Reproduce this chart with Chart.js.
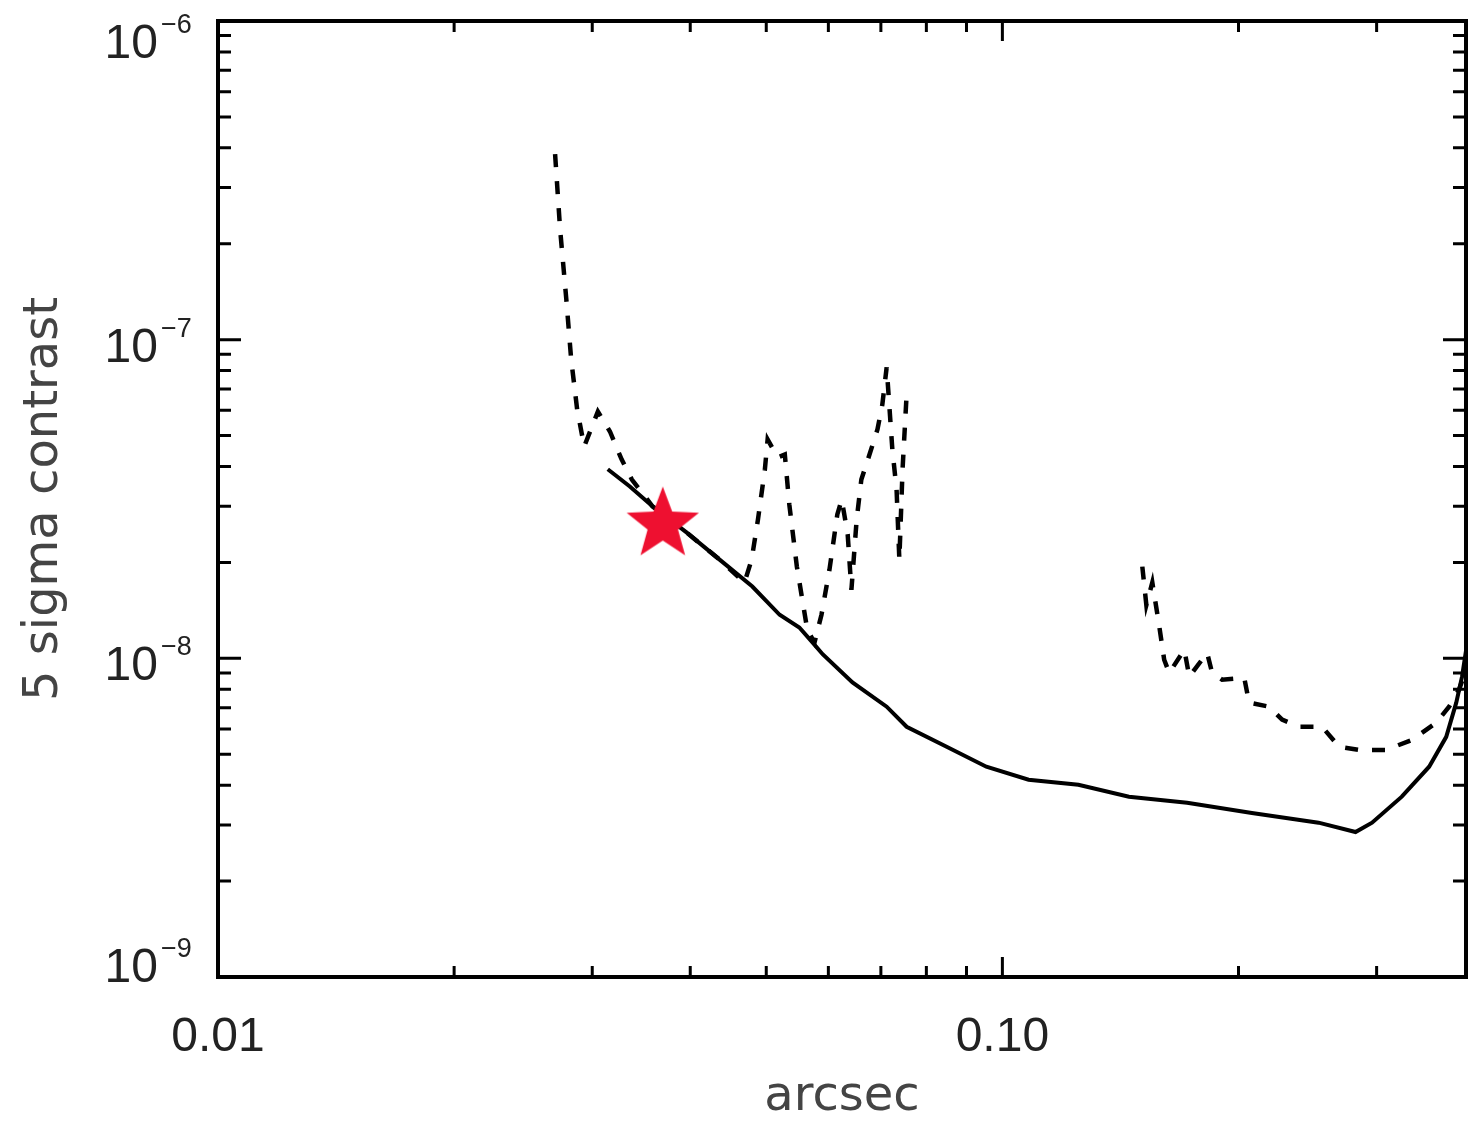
<!DOCTYPE html>
<html>
<head>
<meta charset="utf-8">
<script src="https://cdn.jsdelivr.net/npm/chart.js@4.4.1/dist/chart.umd.min.js"></script>
<style>
  html, body { margin: 0; padding: 0; background: #fff; }
  #wrap { width: 1468px; height: 1122px; }
</style>
</head>
<body>
<div id="wrap"><canvas id="chart" width="1468" height="1122"></canvas></div>
<script>
// solid contrast curve
const solidX = [0.0314, 0.0335, 0.0358, 0.0396, 0.0436, 0.0480, 0.0520, 0.0551, 0.0573, 0.0590,
  0.0644, 0.0712, 0.0755, 0.0849, 0.0954, 0.108, 0.125, 0.145, 0.172, 0.208,
  0.253, 0.282, 0.296, 0.323, 0.350, 0.368, 0.379, 0.3855, 0.391]
const solidY = [3.92e-8, 3.46e-8, 3.00e-8, 2.48e-8, 2.04e-8, 1.68e-8, 1.37e-8, 1.25e-8, 1.12e-8, 1.03e-8,
  8.4e-9, 7.05e-9, 6.1e-9, 5.28e-9, 4.57e-9, 4.16e-9, 4.01e-9, 3.68e-9, 3.52e-9, 3.27e-9,
  3.05e-9, 2.85e-9, 3.05e-9, 3.68e-9, 4.57e-9, 5.67e-9, 7.26e-9, 8.76e-9, 1.10e-8]

// dashed curve, inner part
const dashInnerX = [0.0269, 0.0273, 0.0278, 0.0282, 0.0287, 0.0293, 0.0305, 0.0316, 0.0327, 0.0337,
  0.0358, 0.0396, 0.0436, 0.0469, 0.0479, 0.0488, 0.0498, 0.0502, 0.0517, 0.0528,
  0.0535, 0.0547, 0.0564, 0.0576, 0.0588, 0.0602, 0.0616, 0.0624, 0.0635, 0.0642,
  0.0652, 0.0661, 0.0677, 0.0693, 0.0703, 0.0712, 0.0724, 0.0733, 0.0739, 0.0746, 0.0755]
const dashInnerY = [3.82e-7, 2.22e-7, 1.34e-7, 8.68e-8, 6.04e-8, 4.62e-8, 5.95e-8, 5.15e-8, 4.21e-8, 3.64e-8,
  3.00e-8, 2.48e-8, 2.04e-8, 1.73e-8, 2.04e-8, 2.73e-8, 3.92e-8, 4.86e-8, 4.27e-8, 4.36e-8,
  3.04e-8, 1.94e-8, 1.23e-8, 1.12e-8, 1.37e-8, 1.90e-8, 2.83e-8, 3.15e-8, 2.45e-8, 1.64e-8,
  2.73e-8, 3.64e-8, 4.36e-8, 5.23e-8, 6.26e-8, 8.19e-8, 4.52e-8, 3.39e-8, 2.04e-8, 3.92e-8, 6.74e-8]

// dashed curve, outer part
const dashOuterX = [0.1508, 0.1526, 0.1553, 0.1585, 0.1608, 0.1632, 0.1706, 0.1731, 0.1824, 0.1851,
  0.1906, 0.2034, 0.2063, 0.2188, 0.2273, 0.2389, 0.2556, 0.2687, 0.2850, 0.3085,
  0.3330, 0.3572, 0.3711, 0.3821, 0.390]
const dashOuterY = [1.94e-8, 1.47e-8, 1.73e-8, 1.26e-8, 9.9e-9, 9.0e-9, 1.065e-8, 8.76e-9, 1.04e-8, 9.0e-9,
  8.57e-9, 8.69e-9, 7.26e-9, 7.05e-9, 6.42e-9, 6.10e-9, 6.10e-9, 5.28e-9, 5.16e-9, 5.16e-9,
  5.55e-9, 6.28e-9, 7.05e-9, 7.97e-9, 9.21e-9]

// red star
const starX = [0.0369]
const starY = [2.63e-8]

// tick labels
const xLabelValues = [0.01, 0.1]
const xLabelTexts = ["0.01", "0.10"]
const yExponents = [-9, -8, -7, -6]

function pts(xs, ys) {
  return xs.map((x, i) => ({ x: x, y: ys[i] }))
}

function makeStar(r, color) {
  const c = document.createElement("canvas")
  c.width = c.height = r * 2 + 2
  const g = c.getContext("2d")
  g.translate(r + 1, r + 1)
  g.beginPath()
  for (let i = 0; i < 10; i++) {
    const rad = i % 2 === 0 ? r : r * 0.42
    const a = -Math.PI / 2 + i * Math.PI / 5
    g.lineTo(rad * Math.cos(a), rad * Math.sin(a))
  }
  g.closePath()
  g.fillStyle = color
  g.fill()
  return c
}

const tickFont = "Liberation Sans, Arial, sans-serif"
const titleFont = "DejaVu Sans, sans-serif"

// IDL style box: frame, inward ticks on all sides, 10^n labels
const idlBox = {
  id: "idlBox",
  afterDraw(chart) {
    const ctx = chart.ctx
    const a = chart.chartArea
    const x = chart.scales.x
    const y = chart.scales.y
    ctx.save()
    ctx.strokeStyle = "#000"
    ctx.lineWidth = 3
    ctx.beginPath()
    for (let d = -2; d <= 0; d++) {
      for (let m = 1; m <= 9; m++) {
        const v = m * Math.pow(10, d)
        if (v < x.min || v > x.max) continue
        const px = x.getPixelForValue(v)
        const len = m === 1 ? 20 : 11
        ctx.moveTo(px, a.bottom); ctx.lineTo(px, a.bottom - len)
        ctx.moveTo(px, a.top); ctx.lineTo(px, a.top + len)
      }
    }
    for (let d = -9; d <= -6; d++) {
      for (let m = 1; m <= 9; m++) {
        const v = m * Math.pow(10, d)
        if (v < y.min * 0.999 || v > y.max * 1.001) continue
        const py = y.getPixelForValue(v)
        const len = m === 1 ? 23 : 13
        ctx.moveTo(a.left, py); ctx.lineTo(a.left + len, py)
        ctx.moveTo(a.right, py); ctx.lineTo(a.right - len, py)
      }
    }
    ctx.stroke()

    ctx.lineWidth = 4
    ctx.strokeRect(a.left, a.top, a.right - a.left, a.bottom - a.top)

    ctx.fillStyle = "#222"
    ctx.textBaseline = "alphabetic"
    yExponents.forEach(e => {
      const py = y.getPixelForValue(Math.pow(10, e))
      const base = Math.min(Math.max(py + 22, a.top + 37), a.bottom + 5)
      ctx.font = "48px " + tickFont
      ctx.textAlign = "right"
      ctx.fillText("10", 158, base)
      ctx.font = "27px " + tickFont
      ctx.textAlign = "left"
      ctx.fillText("\u2212" + Math.abs(e), 161, base - 25)
    })
    ctx.restore()
  }
}

const lineStyle = {
  borderColor: "#000",
  pointRadius: 0,
  tension: 0,
  fill: false,
  showLine: true
}

new Chart(document.getElementById("chart"), {
  type: "scatter",
  data: {
    datasets: [
      {
        data: pts(starX, starY),
        pointStyle: makeStar(38, "#ee1030"),
        pointRadius: 38,
        showLine: false,
        order: 0
      },
      Object.assign({ data: pts(solidX, solidY), borderWidth: 4, order: 1 }, lineStyle),
      Object.assign({ data: pts(dashInnerX, dashInnerY), borderWidth: 4.5, borderDash: [13, 14], order: 2 }, lineStyle),
      Object.assign({ data: pts(dashOuterX, dashOuterY), borderWidth: 4.5, borderDash: [13, 14], order: 2 }, lineStyle)
    ]
  },
  options: {
    responsive: false,
    devicePixelRatio: 1,
    animation: false,
    layout: { autoPadding: false, padding: { top: 21, right: 2, left: 0, bottom: 0 } },
    plugins: {
      legend: { display: false },
      tooltip: { enabled: false }
    },
    scales: {
      x: {
        type: "logarithmic",
        min: 0.01,
        max: 0.39,
        grid: { display: false, drawTicks: false },
        border: { display: false },
        afterFit: function(scale) {
          scale.height = 145
          scale.paddingLeft = 0
          scale.paddingRight = 0
        },
        ticks: {
          autoSkip: false,
          maxRotation: 0,
          padding: 32,
          color: "#222",
          font: { family: tickFont, size: 48 },
          callback: function(v) {
            const i = xLabelValues.findIndex(t => Math.abs(t - v) < t * 1e-6)
            return i >= 0 ? xLabelTexts[i] : ""
          }
        },
        title: {
          display: true,
          text: "arcsec",
          color: "#444",
          font: { family: titleFont, size: 48, lineHeight: 1 },
          padding: { top: 0, bottom: 0 }
        }
      },
      y: {
        type: "logarithmic",
        min: 1e-9,
        max: 1e-6,
        grid: { display: false, drawTicks: false },
        border: { display: false },
        afterFit: function(scale) { scale.width = 218 },
        ticks: { display: false },
        title: {
          display: true,
          text: "5 sigma contrast",
          color: "#444",
          font: { family: titleFont, size: 48, lineHeight: 1 },
          padding: { top: 21, bottom: 0 }
        }
      }
    }
  },
  plugins: [idlBox]
})
</script>
</body>
</html>
